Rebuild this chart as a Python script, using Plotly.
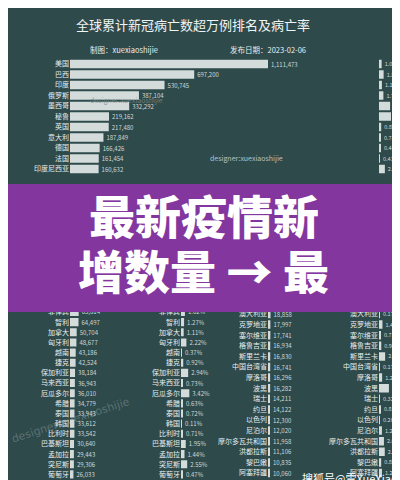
import plotly.graph_objects as go

W, H = 400, 480
def px(x): return x / W
def py(y): return 1 - y / H

BG = "#2e4a4b"
BAR = "#d3dbdb"
LAB = "#e9eeee"
VAL = "#cfd8d8"
PURPLE = "#82369e"
FONT = "Noto Sans CJK SC"

title = "全球累计新冠病亡数超万例排名及病亡率"
maker = "制图：xuexiaoshijie"
pubdate = "发布日期：2023-02-06"

top_countries = ["美国", "巴西", "印度", "俄罗斯", "墨西哥", "秘鲁", "英国", "意大利", "德国", "法国", "印度尼西亚"]
top_deaths = [1111473, 697200, 530745, 387104, 332292, 219162, 217480, 187849, 166426, 161454, 160632]
top_rates = [1.08, 1.89, 1.19, 1.79, 4.53, 4.89, 0.89, 0.74, 0.44, 0.41, 2.39]

b1_countries = ["菲律宾", "智利", "加拿大", "匈牙利", "越南", "捷克", "保加利亚", "马来西亚", "厄瓜多尔",
                "希腊", "泰国", "韩国", "比利时", "巴基斯坦", "孟加拉", "突尼斯", "葡萄牙"]
b1_deaths = [65814, 64497, 50704, 48677, 43186, 42524, 38184, 36943, 36010,
             34779, 33943, 33612, 33542, 30640, 29443, 29306, 26033]
b1_rates = [1.62, 1.27, 1.11, 2.22, 0.37, 0.92, 2.94, 0.73, 3.42,
            0.63, 0.72, 0.11, 0.71, 1.95, 1.44, 2.55, 0.47]

b2_countries = ["澳大利亚", "克罗地亚", "塞尔维亚", "格鲁吉亚", "斯里兰卡", "中国台湾省", "摩洛哥", "波黑",
                "瑞士", "约旦", "以色列", "尼泊尔", "摩尔多瓦共和国", "洪都拉斯", "黎巴嫩", "阿塞拜疆"]
b2_deaths = [18858, 17997, 17741, 16934, 16830, 16741, 16296, 16282,
             14211, 14122, 12300, 12020, 11958, 11106, 10835, 10060]
b2_rates = [0.17, 1.41, 0.72, 0.93, 2.50, 0.17, 1.28, 4.05,
            0.32, 0.81, 0.26, 1.20, 2.02, 2.35, 0.89, 1.21]

banner_line1 = "最新疫情新"
banner_line2 = "增数量 → 最"
watermark = "designer:xuexiaoshijie"
source = "搜狐号@雪XueXiao"

fig = go.Figure()
layout = {}

def panel(idx, cats, vals, texts, x0, x1, xmax, yc0, step, show_labels, tsize=6):
    n = len(cats)
    top = yc0 - step / 2
    bot = yc0 + step * (n - 1) + step / 2
    xn = "x" if idx == 1 else f"x{idx}"
    yn = "y" if idx == 1 else f"y{idx}"
    fig.add_trace(go.Bar(
        x=vals, y=cats, orientation="h", xaxis=xn, yaxis=yn,
        marker=dict(color=BAR, line=dict(width=0)), width=0.8,
        text=texts, textposition="outside", cliponaxis=False, constraintext="none",
        textfont=dict(size=tsize, color=VAL, family=FONT), hoverinfo="skip", showlegend=False))
    key = "" if idx == 1 else str(idx)
    layout["xaxis" + key] = dict(domain=[px(x0), px(x1)], range=[0, xmax], visible=False,
                                 anchor=yn, fixedrange=True)
    layout["yaxis" + key] = dict(domain=[py(bot), py(top)], anchor=xn, type="category",
                                 categoryorder="array", categoryarray=cats, autorange="reversed",
                                 showgrid=False, zeroline=False, showline=False, ticks="",
                                 showticklabels=show_labels,
                                 tickfont=dict(size=7, color=LAB, family=FONT), fixedrange=True)

fmt_d = lambda v: f"{v:,}"
fmt_r = lambda v: f"{v:.2f}%"

# top section
panel(1, top_countries, top_deaths, [fmt_d(v) for v in top_deaths], 62, 260, max(top_deaths), 56, 10.5, True)
panel(2, top_countries, top_rates, [fmt_r(v) for v in top_rates], 371, 396, 10.2, 56, 10.5, False, tsize=5.5)
# bottom section
panel(3, b1_countries, b1_deaths, [fmt_d(v) for v in b1_deaths], 62, 100, 288000, 304, 10.15, True)
panel(4, b1_countries, b1_rates, [fmt_r(v) for v in b1_rates], 173, 200, 11.1, 304, 10.15, True)
panel(5, b2_countries, b2_deaths, [fmt_d(v) for v in b2_deaths], 260, 298, 288000, 306, 10.6, True)
panel(6, b2_countries, b2_rates, [fmt_r(v) for v in b2_rates], 371, 396, 10.2, 306, 10.6, True, tsize=5.5)

annotations = [
    dict(text=title, x=px(185), y=py(17), xref="paper", yref="paper", showarrow=False,
         font=dict(size=13, color="#f0f4f4", family=FONT), xanchor="center", yanchor="middle"),
    dict(text=maker, x=px(80), y=py(41), xref="paper", yref="paper", showarrow=False,
         font=dict(size=7.5, color=LAB, family=FONT), xanchor="left", yanchor="middle"),
    dict(text=pubdate, x=px(220), y=py(41), xref="paper", yref="paper", showarrow=False,
         font=dict(size=7.5, color=LAB, family=FONT), xanchor="left", yanchor="middle"),
    dict(text=watermark, x=px(200), y=py(150), xref="paper", yref="paper", showarrow=False,
         font=dict(size=7, color="rgba(225,232,232,0.75)", family=FONT), xanchor="left", yanchor="middle"),
    dict(text=watermark, x=px(80), y=py(92), xref="paper", yref="paper", showarrow=False,
         font=dict(size=7, color="rgba(120,140,140,0.8)", family=FONT), xanchor="left", yanchor="middle"),
    dict(text=watermark, x=px(62), y=py(412), xref="paper", yref="paper", showarrow=False, textangle=-18,
         font=dict(size=11, color="rgba(200,212,212,0.3)", family="DejaVu Sans"), xanchor="center", yanchor="middle"),
    dict(text=banner_line1, x=px(196), y=py(206), xref="paper", yref="paper", showarrow=False,
         font=dict(size=46, color="white", family=FONT, weight=900), xanchor="center", yanchor="middle"),
    dict(text=banner_line2, x=px(195), y=py(261), xref="paper", yref="paper", showarrow=False,
         font=dict(size=46, color="white", family=FONT, weight=900), xanchor="center", yanchor="middle"),
    dict(text=source, x=px(392), y=py(470), xref="paper", yref="paper", showarrow=False,
         font=dict(size=11, color="white", family=FONT), xanchor="right", yanchor="middle"),
]

fig.update_layout(
    width=W, height=H, margin=dict(l=0, r=0, t=0, b=0),
    paper_bgcolor=BG, plot_bgcolor=BG, showlegend=False, bargap=0.2,
    font=dict(family=FONT, color=LAB),
    shapes=[dict(type="rect", xref="paper", yref="paper", x0=0, x1=1, y0=py(304), y1=py(176),
                 fillcolor=PURPLE, line=dict(width=0), layer="above")],
    annotations=annotations,
    **layout,
)

fig.write_html("out.html", config={"displayModeBar": False})
